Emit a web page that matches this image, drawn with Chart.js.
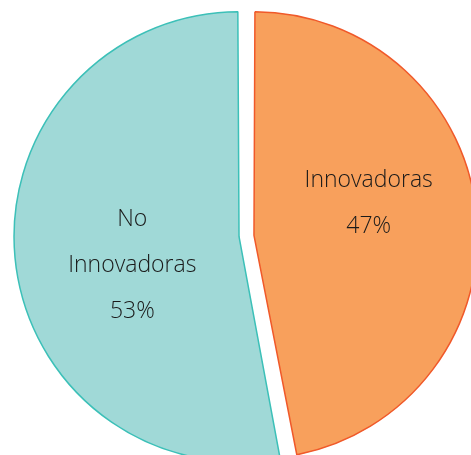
<!DOCTYPE html>
<html lang="es">
<head>
<meta charset="UTF-8">
<title>Innovadoras</title>
<script src="https://cdn.jsdelivr.net/npm/chart.js"></script>
<style>
  html, body { margin: 0; padding: 0; background: #fff; overflow: hidden; }
  #wrap { width: 471px; height: 455px; }
</style>
</head>
<body>
<div id="wrap"><canvas id="pie"></canvas></div>
<script>
// data
const categories = ["Innovadoras", "No Innovadoras"];
const shares = [47, 53];
const labelLines = [["Innovadoras", "47%"], ["No", "Innovadoras", "53%"]];

// label tweaks relative to the arc's tooltip point
const labelShift = [[-1, -21], [9, 18]];

const sliceLabels = {
  id: "sliceLabels",
  afterDatasetsDraw(chart) {
    const ctx = chart.ctx;
    const meta = chart.getDatasetMeta(0);
    ctx.save();
    ctx.font = "300 23px 'Open Sans', sans-serif";
    ctx.fillStyle = "#1a1a1a";
    ctx.textAlign = "center";
    ctx.textBaseline = "middle";
    meta.data.forEach((arc, i) => {
      const p = arc.tooltipPosition();
      const lines = labelLines[i];
      const lh = 46;
      const x = p.x + labelShift[i][0];
      const y0 = p.y + labelShift[i][1] - (lines.length - 1) * lh / 2;
      lines.forEach((t, k) => ctx.fillText(t, x, y0 + k * lh));
    });
    ctx.restore();
  }
};

new Chart(document.getElementById("pie"), {
  type: "pie",
  data: {
    labels: categories,
    datasets: [{
      data: shares,
      backgroundColor: ["#f8a05c", "#a0d9d7"],
      borderColor: ["#f0592a", "#3cc0b8"],
      borderWidth: 1.5,
      offset: 30,
      radius: 217.5
    }]
  },
  options: {
    responsive: true,
    maintainAspectRatio: false,
    animation: false,
    layout: { padding: { left: 22, top: 17 } },
    plugins: {
      legend: { display: false },
      tooltip: { enabled: false }
    }
  },
  plugins: [sliceLabels]
});
</script>
</body>
</html>
